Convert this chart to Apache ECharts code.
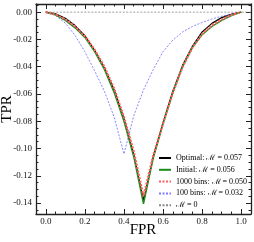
<!DOCTYPE html>
<html>
<head>
<meta charset="utf-8">
<script src="https://cdn.jsdelivr.net/npm/echarts@6/dist/echarts.min.js"></script>
<style>html,body{margin:0;padding:0;background:#fff;}#c{width:254px;height:242px;}</style>
</head>
<body>
<div id="c"></div>
<script>
// ---- data ----
var fpr = [0,0.05,0.1,0.15,0.2,0.25,0.3,0.35,0.4,0.45,0.5,0.55,0.6,0.65,0.7,0.75,0.8,0.85,0.9,0.95,1.0];
var optimal = [0,-0.0012,-0.0045,-0.0098,-0.0172,-0.028,-0.041,-0.057,-0.078,-0.104,-0.138,-0.106,-0.081,-0.058,-0.039,-0.025,-0.0145,-0.0082,-0.0040,-0.0015,0];
var initial = [0,-0.002,-0.006,-0.0115,-0.0185,-0.029,-0.042,-0.059,-0.080,-0.106,-0.1405,-0.107,-0.082,-0.059,-0.040,-0.026,-0.0165,-0.0105,-0.006,-0.0025,0];
var bins1000 = [0,-0.0016,-0.0052,-0.0105,-0.0175,-0.0275,-0.040,-0.056,-0.077,-0.102,-0.135,-0.105,-0.0815,-0.059,-0.040,-0.026,-0.016,-0.0095,-0.0053,-0.002,0];
var bins100 = [0,-0.0025,-0.008,-0.017,-0.029,-0.043,-0.058,-0.077,-0.104,-0.076,-0.057,-0.042,-0.029,-0.0205,-0.0145,-0.0105,-0.0075,-0.005,-0.003,-0.0013,0];
var zeroX = [0, 1.05];
var zeroY = [0, 0];
var seriesNames = ['Optimal: ℳ = 0.057','Initial: ℳ = 0.056','1000 bins: ℳ = 0.050','100 bins: ℳ = 0.032','ℳ = 0'];
var xTitle = 'FPR';
var yTitle = 'TPR';
var xMajor = [0,0.2,0.4,0.6,0.8,1.0];
var yMajor = [-0.14,-0.12,-0.10,-0.08,-0.06,-0.04,-0.02,0];
var xMinor = [];
for (var i = -1; i <= 21; i++) { xMinor.push(+(i*0.05).toFixed(3)); }
var yMinor = [];
for (var j = -29; j <= 1; j++) { yMinor.push(+(j*0.005).toFixed(4)); }

function pairs(xs, ys){ return xs.map(function(x,k){ return [x, ys[k]]; }); }

var FONT = 'Liberation Serif';
var LFONT = "'Liberation Serif','DejaVu Serif'";
var AX = {color:'#222', width:1.3};
var XMIN=-0.05, XMAX=1.05, YMIN=-0.148, YMAX=0.006;

function xAx(pos, vals, len, labels, line){
  return {type:'value', min:XMIN, max:XMAX, position:pos,
    axisLine:{show:line, onZero:false, lineStyle:AX},
    axisTick:{show:true, inside:true, length:len, customValues:vals, lineStyle:{color:'#222', width:1}},
    axisLabel:{show:labels, customValues:vals, fontFamily:FONT, fontSize:9, color:'#111', margin:3,
      formatter:function(v){return v.toFixed(1);}},
    splitLine:{show:false}};
}
function yAx(pos, vals, len, labels, line){
  return {type:'value', min:YMIN, max:YMAX, position:pos,
    axisLine:{show:line, onZero:false, lineStyle:AX},
    axisTick:{show:true, inside:true, length:len, customValues:vals, lineStyle:{color:'#222', width:1}},
    axisLabel:{show:labels, customValues:vals, fontFamily:FONT, fontSize:9, color:'#111', margin:4,
      formatter:function(v){return v.toFixed(2);}},
    splitLine:{show:false}};
}
function ser(idx, xs, ys, color, width, type, z){
  return {name:seriesNames[idx], type:'line', symbol:'none', data:pairs(xs,ys), color:color,
    itemStyle:{color:color}, lineStyle:{color:color, width:width, type:type}, z:z};
}

var chart = echarts.init(document.getElementById('c'), null, {renderer:'canvas'});
chart.setOption({
  animation:false,
  backgroundColor:'#fff',
  grid:{left:36, right:3, top:4, bottom:28, containLabel:false, outerBoundsMode:'none'},
  xAxis:[
    xAx('bottom', xMajor, 5, true, true),
    xAx('bottom', xMinor, 2.5, false, false),
    xAx('top', xMajor, 5, false, true),
    xAx('top', xMinor, 2.5, false, false)
  ],
  yAxis:[
    yAx('left', yMajor, 5, true, true),
    yAx('left', yMinor, 2.5, false, false),
    yAx('right', yMajor, 5, false, true),
    yAx('right', yMinor, 2.5, false, false)
  ],
  graphic:[
    {type:'text', x:143, y:230, style:{text:xTitle, fontFamily:FONT, fontSize:15, fill:'#000',
      align:'center', verticalAlign:'middle'}},
    {type:'text', x:7, y:109, rotation:Math.PI/2, style:{text:yTitle, fontFamily:FONT, fontSize:15, fill:'#000',
      align:'center', verticalAlign:'middle'}}
  ],
  legend:{orient:'vertical', left:158, top:154, padding:0, itemWidth:12, itemHeight:8, itemGap:3.8,
    itemStyle:{color:'transparent', opacity:0, borderWidth:0},
    textStyle:{fontFamily:LFONT, fontSize:8, color:'#000'}, data:seriesNames},
  series:[
    ser(3, fpr, bins100, '#7b7bff', 0.9, [2,1.5], 2),
    ser(4, zeroX, zeroY, '#888888', 0.8, [2,1.5], 2),
    ser(0, fpr, optimal, '#000000', 1.2, 'solid', 3),
    ser(1, fpr, initial, '#1a8a1a', 1.4, 'solid', 4),
    ser(2, fpr, bins1000, '#ff6060', 2.2, [2,1.5], 5)
  ]
});
</script>
</body>
</html>
